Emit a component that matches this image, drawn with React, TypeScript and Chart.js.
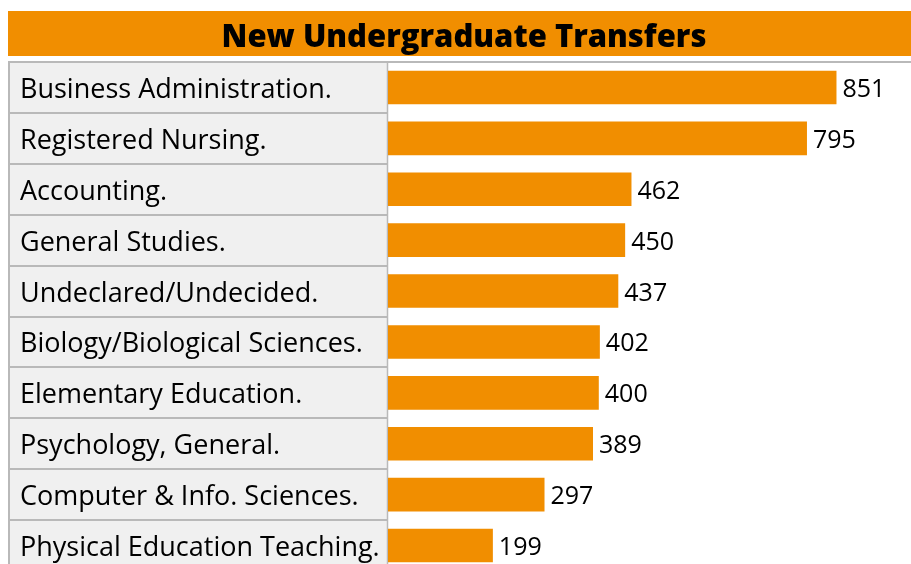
import React, { useEffect, useRef } from "react";
import { Chart, registerables } from "chart.js";

Chart.register(...registerables);

const TITLE = "New Undergraduate Transfers";
const CATEGORIES = [
  "Business Administration.",
  "Registered Nursing.",
  "Accounting.",
  "General Studies.",
  "Undeclared/Undecided.",
  "Biology/Biological Sciences.",
  "Elementary Education.",
  "Psychology, General.",
  "Computer & Info. Sciences.",
  "Physical Education Teaching.",
];
const TRANSFERS = [851, 795, 462, 450, 437, 402, 400, 389, 297, 199];

const ORANGE = "#F18E00";
const CELL = "#F0F0F0";
const LINE = "#B9B9B9";
const FONT = "'Open Sans', 'Noto Sans', sans-serif";

const tablePlugin = {
  id: "tablePlugin",
  beforeDraw(chart: any) {
    const { ctx, chartArea } = chart;
    const yScale = chart.scales.y;
    const n = CATEGORIES.length;
    const band = (chartArea.bottom - chartArea.top) / n;
    ctx.save();
    // title bar
    ctx.fillStyle = ORANGE;
    ctx.fillRect(8, 11, 920, 45);
    ctx.fillStyle = "#000";
    ctx.font = `800 31px ${FONT}`;
    ctx.textAlign = "center";
    ctx.textBaseline = "alphabetic";
    ctx.fillText(TITLE, 464, 47);
    // cells
    const left = 8;
    const right = chartArea.left;
    ctx.fillStyle = CELL;
    ctx.fillRect(left, chartArea.top, right - left, chartArea.bottom - chartArea.top);
    ctx.strokeStyle = LINE;
    ctx.lineWidth = 2;
    ctx.beginPath();
    ctx.moveTo(left, chartArea.top);
    ctx.lineTo(chart.width, chartArea.top);
    ctx.stroke();
    for (let i = 1; i < n; i++) {
      const y = Math.round(chartArea.top + i * band);
      ctx.beginPath();
      ctx.moveTo(left, y);
      ctx.lineTo(right, y);
      ctx.stroke();
    }
    ctx.beginPath();
    ctx.moveTo(left + 1, chartArea.top);
    ctx.lineTo(left + 1, chartArea.bottom);
    ctx.stroke();
    ctx.lineWidth = 1.5;
    ctx.beginPath();
    ctx.moveTo(right - 0.5, chartArea.top);
    ctx.lineTo(right - 0.5, chartArea.bottom);
    ctx.stroke();
    // labels
    ctx.fillStyle = "#000";
    ctx.font = `27px ${FONT}`;
    ctx.textAlign = "left";
    ctx.textBaseline = "alphabetic";
    CATEGORIES.forEach((c, i) => {
      const y = yScale.getPixelForValue(i);
      ctx.fillText(c, 20, y + 10.5);
    });
    ctx.restore();
  },
  afterDatasetsDraw(chart: any) {
    const { ctx } = chart;
    const meta = chart.getDatasetMeta(0);
    ctx.save();
    ctx.fillStyle = "#000";
    ctx.font = `25px ${FONT}`;
    ctx.textAlign = "left";
    ctx.textBaseline = "alphabetic";
    meta.data.forEach((bar: any, i: number) => {
      ctx.fillText(String(TRANSFERS[i]), bar.x + 6, bar.y + 9.5);
    });
    ctx.restore();
  },
};

export default function App() {
  const ref = useRef<HTMLCanvasElement | null>(null);
  useEffect(() => {
    document.body.style.margin = "0";
    document.body.style.overflow = "hidden";
    const chart = new Chart(ref.current!, {
      type: "bar",
      data: {
        labels: CATEGORIES,
        datasets: [
          {
            data: TRANSFERS,
            backgroundColor: ORANGE,
            borderWidth: 0,
            categoryPercentage: 1,
            barPercentage: 0.66,
          },
        ],
      },
      options: {
        indexAxis: "y",
        responsive: false,
        animation: false,
        layout: { padding: { top: 62, bottom: 1, left: 0, right: 0 } },
        plugins: {
          legend: { display: false },
          tooltip: { enabled: false },
          title: { display: false },
        },
        scales: {
          x: { display: false, min: 0, max: 1000 },
          y: {
            display: true,
            grid: { display: false },
            border: { display: false },
            ticks: { display: false },
            afterFit: (scale: any) => {
              scale.width = 388;
            },
          },
        },
      },
      plugins: [tablePlugin],
    });
    return () => chart.destroy();
  }, []);
  return (
    <div style={{ width: 911, height: 564, overflow: "hidden", position: "relative" }}>
      <canvas ref={ref} width={915} height={572} style={{ display: "block" }} />
    </div>
  );
}
